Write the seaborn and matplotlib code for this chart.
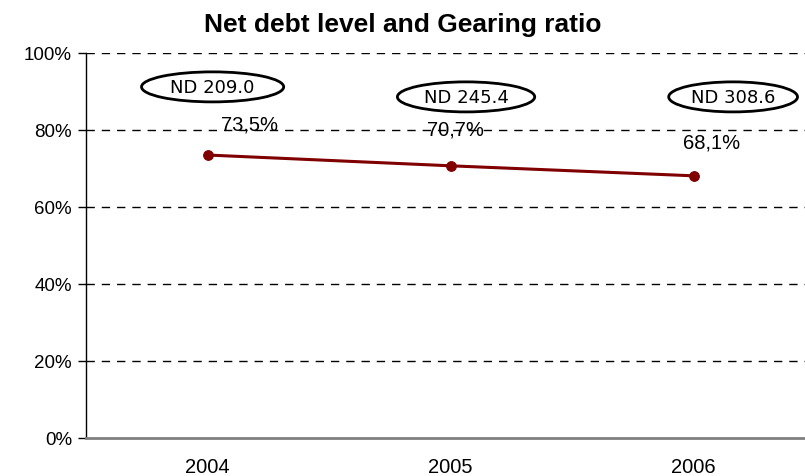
import matplotlib
matplotlib.use("Agg")
import matplotlib.pyplot as plt
from matplotlib.patches import Ellipse
import seaborn as sns
import pandas as pd
import numpy as np

years = ["2004", "2005", "2006"]
gearing = [73.5, 70.7, 68.1]
gearing_labels = ["73,5%", "70,7%", "68,1%"]
net_debt = [209.0, 245.4, 308.6]
y_ticks = [0, 20, 40, 60, 80, 100]
y_tick_labels = ["0%", "20%", "40%", "60%", "80%", "100%"]

sns.set_style("white")
plt.rcParams['font.family'] = ['Liberation Sans', 'DejaVu Sans']
plt.rcParams['text.color'] = 'black'
plt.rcParams['xtick.color'] = 'black'
plt.rcParams['ytick.color'] = 'black'
plt.rcParams['axes.labelcolor'] = 'black'

df = pd.DataFrame({"idx": np.arange(len(years)), "gearing": gearing})

fig = plt.figure(figsize=(8.05, 4.77), dpi=100)
ax = fig.add_axes([86/805, 38/477, 729/805, 385/477])

sns.lineplot(data=df, x="idx", y="gearing", ax=ax, color="#800000",
             linewidth=2.2, marker="o", markersize=7, markeredgecolor="#800000", zorder=5)

ax.set_xlim(-0.5, len(years) - 0.5)
ax.set_ylim(0, 100)
ax.set_xlabel("")
ax.set_ylabel("")

ax.set_yticks(y_ticks)
ax.set_yticklabels(y_tick_labels, fontsize=13.5)
ax.set_xticks(np.arange(len(years)))
ax.set_xticklabels(years, fontsize=14.5)
ax.set_xticks(np.arange(len(years) + 1) - 0.5, minor=True)
ax.tick_params(axis="x", which="major", length=0, pad=14)
ax.tick_params(axis="x", which="minor", length=6, width=1, color="black", direction="out")
ax.tick_params(axis="y", length=6, width=1, color="black", direction="out", left=True, pad=4)

for yv in y_ticks[1:]:
    ax.axhline(yv, color="black", linestyle=(0, (6, 5)), linewidth=1.0, zorder=1)

for s in ["top", "right"]:
    ax.spines[s].set_visible(False)
ax.spines["left"].set_color("black")
ax.spines["left"].set_linewidth(1)
ax.spines["bottom"].set_color("#808080")
ax.spines["bottom"].set_linewidth(2)

ax.set_title("Net debt level and Gearing ratio", fontsize=19, fontweight="bold",
             pad=16, x=0.434)

label_off = [(42, 31), (5, 37), (18, 34)]
for i, (v, lab) in enumerate(zip(gearing, gearing_labels)):
    ax.annotate(lab, (i, v), xytext=label_off[i], textcoords="offset pixels",
                ha="center", va="center", fontsize=14.5, zorder=6)

ell_off = [(0.021, 17.7), (0.064, 17.9), (0.163, 20.5)]
ell_w = [0.585, 0.565, 0.53]
for i, (v, nd) in enumerate(zip(gearing, net_debt)):
    cx = i + ell_off[i][0]
    cy = v + ell_off[i][1]
    ax.add_patch(Ellipse((cx, cy), ell_w[i], 7.8, facecolor="white", edgecolor="black",
                         linewidth=2, zorder=7, clip_on=False))
    ax.text(cx, cy, f"ND {nd:.1f}", ha="center", va="center", fontsize=13,
            family="DejaVu Sans", zorder=8)

fig.savefig("out.png", dpi=100)
